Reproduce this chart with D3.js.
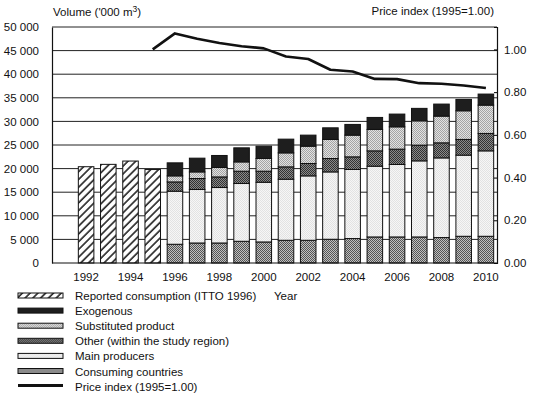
<!DOCTYPE html>
<html>
<head>
  <meta charset="utf-8">
  <title>Volume and price index</title>
  <script src="https://d3js.org/d3.v7.min.js"></script>
  <style>
    body { margin: 0; background: #fff; }
    text { font-family: "Liberation Sans", Arial, sans-serif; font-size: 11.5px; fill: #111; }
    .grid line { stroke: #222; stroke-width: 1; }
  </style>
</head>
<body>
<script>
var width = 534, height = 397;
var plotLeft = 52, plotRight = 497, plotTop = 27, plotBottom = 263;

// data
var years = [1992,1993,1994,1995,1996,1997,1998,1999,2000,2001,2002,2003,2004,2005,2006,2007,2008,2009,2010];
var tickYears = [1992,1994,1996,1998,2000,2002,2004,2006,2008,2010];
var reportedYears = [1992,1993,1994,1995];
var reported = [20400, 20900, 21600, 19800];

var stackYears = [1996,1997,1998,1999,2000,2001,2002,2003,2004,2005,2006,2007,2008,2009,2010];
var consuming   = [3970, 4240, 4240, 4600, 4460, 4810, 4810, 5030, 5180, 5520, 5520, 5520, 5390, 5660, 5660];
var mainProd    = [11240, 11330, 11750, 12240, 12650, 12940, 13650, 14270, 14630, 14990, 15350, 16120, 16880, 17190, 18100];
var other       = [1970, 2330, 2250, 2610, 2340, 2620, 2620, 2840, 2680, 3250, 3250, 3330, 3190, 3330, 3690];
var substituted = [1280, 1400, 1990, 1970, 2690, 2960, 3670, 4040, 4600, 4540, 4730, 5150, 5660, 6070, 6000];
var exogenous   = [2760, 2910, 2550, 2980, 2610, 2910, 2340, 2460, 2270, 2540, 2700, 2640, 2550, 2410, 2340];

var priceYears = [1995,1996,1997,1998,1999,2000,2001,2002,2003,2004,2005,2006,2007,2008,2009,2010];
var price = [1.00, 1.075, 1.05, 1.03, 1.015, 1.005, 0.967, 0.955, 0.905, 0.897, 0.862, 0.861, 0.842, 0.839, 0.831, 0.819];

var leftTicks = [0,5000,10000,15000,20000,25000,30000,35000,40000,45000,50000];
var rightTicks = [0, 0.2, 0.4, 0.6, 0.8, 1.0];

var keys = ['consuming','main','other','substituted','exogenous'];
var legendItems = [
  {label:'Reported consumption (ITTO 1996)', fill:'url(#hatch)'},
  {label:'Exogenous', fill:'#1e1e1e'},
  {label:'Substituted product', fill:'url(#subst)'},
  {label:'Other (within the study region)', fill:'url(#other)'},
  {label:'Main producers', fill:'url(#main)'},
  {label:'Consuming countries', fill:'url(#cons)'},
  {label:'Price index (1995=1.00)', line:true}
];
var fills = {consuming:'url(#cons)', main:'url(#main)', other:'url(#other)', substituted:'url(#subst)', exogenous:'#1e1e1e'};

var svg = d3.select('body').append('svg').attr('width', width).attr('height', height);

// patterns
var defs = svg.append('defs');
var hatch = defs.append('pattern').attr('id','hatch').attr('patternUnits','userSpaceOnUse')
  .attr('width',5.5).attr('height',5.5).attr('patternTransform','rotate(45)');
hatch.append('rect').attr('width',5.5).attr('height',5.5).attr('fill','#fff');
hatch.append('line').attr('x1',1).attr('x2',1).attr('y1',0).attr('y2',5.5).attr('stroke','#111').attr('stroke-width',1.5);

function checker(id, a, b) {
  var p = defs.append('pattern').attr('id',id).attr('patternUnits','userSpaceOnUse').attr('width',2).attr('height',2);
  p.append('rect').attr('width',2).attr('height',2).attr('fill',a);
  p.append('rect').attr('width',1).attr('height',1).attr('fill',b);
  p.append('rect').attr('x',1).attr('y',1).attr('width',1).attr('height',1).attr('fill',b);
}
checker('cons', '#c0c0c0', '#555');
checker('other', '#8a8a8a', '#333');
checker('subst', '#e2e2e2', '#a4a4a4');
checker('main', '#f6f6f6', '#e2e2e2');

var x = d3.scaleBand().domain(years).range([75, plotRight]).paddingInner(0.3).paddingOuter(0.15);
var y = d3.scaleLinear().domain([0, 50000]).range([plotBottom, plotTop]);
var y2 = d3.scaleLinear().domain([0, 1.105]).range([plotBottom, plotTop]);

// grid
svg.append('g').attr('class','grid').selectAll('line')
  .data(leftTicks.slice(1)).enter().append('line')
  .attr('x1', plotLeft).attr('x2', plotRight)
  .attr('y1', function(d){ return y(d); }).attr('y2', function(d){ return y(d); });

// reported bars
svg.append('g').selectAll('rect')
  .data(reportedYears).enter().append('rect')
  .attr('x', function(d){ return x(d); })
  .attr('width', x.bandwidth())
  .attr('y', function(d,i){ return y(reported[i]); })
  .attr('height', function(d,i){ return y(0) - y(reported[i]); })
  .attr('fill','url(#hatch)').attr('stroke','#111').attr('stroke-width',1);

// stacked bars
var rows = stackYears.map(function(yr, i) {
  return {year:yr, consuming:consuming[i], main:mainProd[i], other:other[i], substituted:substituted[i], exogenous:exogenous[i]};
});
var series = d3.stack().keys(keys)(rows);

svg.append('g').selectAll('g')
  .data(series).enter().append('g')
  .attr('fill', function(d){ return fills[d.key]; })
  .selectAll('rect')
  .data(function(d){ return d; }).enter().append('rect')
  .attr('x', function(d){ return x(d.data.year); })
  .attr('width', x.bandwidth())
  .attr('y', function(d){ return y(d[1]); })
  .attr('height', function(d){ return y(d[0]) - y(d[1]); })
  .attr('stroke','#111').attr('stroke-width',1);

// axes
var yAxis = d3.axisLeft(y).tickValues(leftTicks).tickSize(0).tickPadding(13)
  .tickFormat(function(d){ return d3.format(',')(d).replace(',', ' '); });
svg.append('g').attr('transform','translate(' + plotLeft + ',0)').call(yAxis)
  .call(function(g){ g.select('.domain').attr('stroke','#111').attr('stroke-width',1.2); })
  .selectAll('text').style('font-size','11.5px');

var y2Axis = d3.axisRight(y2).tickValues(rightTicks).tickSize(-3).tickPadding(7)
  .tickFormat(d3.format('.2f'));
svg.append('g').attr('transform','translate(' + plotRight + ',0)').call(y2Axis)
  .call(function(g){ g.select('.domain').attr('stroke','#111').attr('stroke-width',1.2); })
  .selectAll('text').style('font-size','11.5px');

var xAxis = d3.axisBottom(x).tickValues(tickYears).tickSize(0).tickPadding(10);
svg.append('g').attr('transform','translate(0,' + plotBottom + ')').call(xAxis)
  .call(function(g){ g.select('.domain').attr('d', 'M' + plotLeft + ',0H' + plotRight).attr('stroke','#111').attr('stroke-width',1.2); })
  .selectAll('text').style('font-size','11.5px');

// price line
var line = d3.line()
  .x(function(d,i){ return x(priceYears[i]) + x.bandwidth()/2; })
  .y(function(d){ return y2(d); });
svg.append('path').datum(price)
  .attr('d', line).attr('fill','none').attr('stroke','#111').attr('stroke-width',2.6)
  .attr('stroke-linejoin','round');

// axis titles
var vt = svg.append('text').attr('x', 53).attr('y', 16);
vt.append('tspan').text("Volume ('000 m");
vt.append('tspan').attr('dy', -4).style('font-size','8.5px').text('3');
vt.append('tspan').attr('dy', 4).text(')');
svg.append('text').attr('x', 494).attr('y', 15).attr('text-anchor','end').text('Price index (1995=1.00)');
svg.append('text').attr('x', 274).attr('y', 300).text('Year');

// legend
var lg = svg.append('g').selectAll('g')
  .data(legendItems).enter().append('g')
  .attr('transform', function(d,i){ return 'translate(18,' + (296 + i*15.1) + ')'; });
lg.filter(function(d){ return !d.line; }).append('rect')
  .attr('x',0).attr('y',-3).attr('width',45).attr('height',5)
  .attr('fill', function(d){ return d.fill; }).attr('stroke','#111').attr('stroke-width',1);
lg.filter(function(d){ return d.line; }).append('line')
  .attr('x1',0).attr('x2',45).attr('y1',-1).attr('y2',-1).attr('stroke','#111').attr('stroke-width',3);
lg.append('text').attr('x',57).attr('y',4).text(function(d){ return d.label; });
</script>
</body>
</html>
